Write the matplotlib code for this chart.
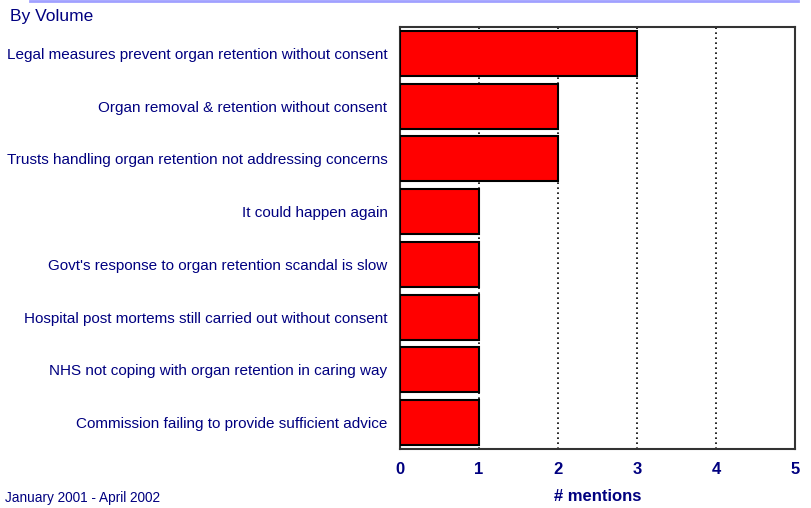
import matplotlib.pyplot as plt
import numpy as np

plt.rcParams['font.family'] = ['Liberation Sans', 'DejaVu Sans']

topics = [
    'Legal measures prevent organ retention without consent',
    'Organ removal & retention without consent',
    'Trusts handling organ retention not addressing concerns',
    'It could happen again',
    "Govt's response to organ retention scandal is slow",
    'Hospital post mortems still carried out without consent',
    'NHS not coping with organ retention in caring way',
    'Commission failing to provide sufficient advice',
]
mentions = [3, 2, 2, 1, 1, 1, 1, 1]
xticks = [0, 1, 2, 3, 4, 5]

navy = '#000080'

fig = plt.figure(figsize=(8.12, 5.08), dpi=100)
ax = fig.add_axes([400 / 812, 1 - 449 / 508, 395 / 812, 422 / 508])

y = np.arange(len(topics))
ax.barh(y, mentions, height=0.85, color='#ff0000', edgecolor='black', linewidth=1.5, zorder=3)
ax.set_ylim(len(topics) - 0.5, -0.5)
ax.set_xlim(0, 5)

ax.set_yticks(y)
ax.set_yticklabels(topics, color=navy, fontsize=11)
ax.set_xticks(xticks)
ax.set_xticklabels([str(t) for t in xticks], color=navy, fontsize=12, fontweight='bold')
ax.tick_params(axis='y', length=0, pad=9)
ax.tick_params(axis='x', length=0, pad=9)

ax.xaxis.grid(True, linestyle=(0, (1, 2)), color='black', linewidth=1.2, zorder=0)
for s in ax.spines.values():
    s.set_linewidth(1.5)
    s.set_color('#333333')

ax.set_xlabel('# mentions', color=navy, fontsize=12, fontweight='bold', labelpad=9)

fig.text(10 / 812, 1 - 16 / 508, 'By Volume', color=navy, fontsize=12.5, va='center')
fig.text(5 / 812, 1 - 498 / 508, 'January 2001 - April 2002', color=navy, fontsize=9.8, va='center')
fig.add_artist(plt.Line2D([30 / 812, 798 / 812], [1 - 1 / 508, 1 - 1 / 508],
                          color='#a0a0ff', linewidth=2, transform=fig.transFigure))

fig.savefig('out.png', dpi=100)
